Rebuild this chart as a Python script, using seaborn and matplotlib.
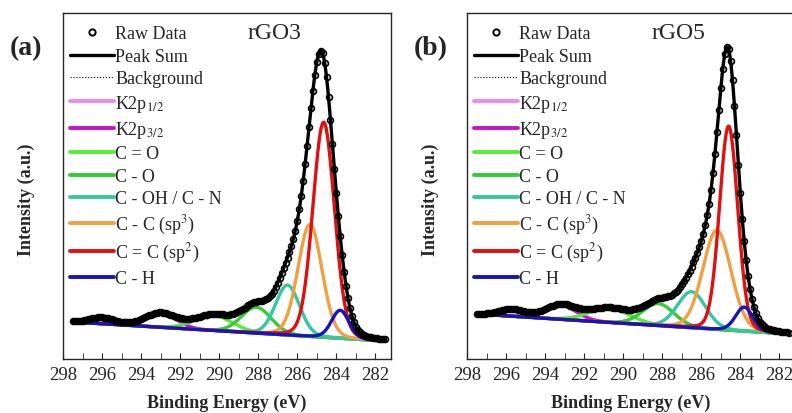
import numpy as np
import seaborn as sns
import matplotlib.pyplot as plt
from matplotlib.lines import Line2D

# componentes del ajuste C1s (centro eV, altura, FWHM, fraccion lorentziana)
names = ["K2p$_{1/2}$", "K2p$_{3/2}$", "C = O", "C - O", "C - OH / C - N",
         "C - C (sp$^3$)", "C = C (sp$^2$)", "C - H"]
colors = ["#EE8AEE", "#CC11CC", "#55EE33", "#33CC33", "#33C8A0",
          "#F0A040", "#E01010", "#1515C0"]

# rGO3
centers_a = [296.0, 293.0, 290.3, 288.1, 286.5, 285.35, 284.65, 283.8]
heights_a = [6, 14, 15, 26, 50, 112, 215, 28]
fwhm_a = [1.5, 1.9, 2.3, 1.8, 1.45, 1.45, 1.3, 1.05]
eta_a = [0.1, 0.1, 0.1, 0.1, 0.1, 0.1, 0.1, 0.15]
bg_a = [37, 18]   # fondo en 297.5 y 281.5 eV

# rGO5
centers_b = [295.7, 293.2, 290.7, 288.2, 286.5, 285.2, 284.6, 283.8]
heights_b = [7, 14, 14, 22, 36, 99, 204, 24]
fwhm_b = [1.5, 1.9, 2.5, 1.9, 1.7, 1.7, 1.1, 1.05]
eta_b = [0.1, 0.1, 0.1, 0.1, 0.1, 0.1, 0.1, 0.15]
bg_b = [45, 25]

e_start, e_end = 297.5, 281.5


def pvoigt(x, c, h, w, eta):
    g = np.exp(-4 * np.log(2) * ((x - c) / w) ** 2)
    l = 1 / (1 + (2 * (x - c) / w) ** 2)
    return h * ((1 - eta) * g + eta * l)


plt.rcParams["mathtext.fontset"] = "stix"
sns.set_style("ticks")
plt.rcParams["font.family"] = ["Liberation Serif", "DejaVu Serif"]

fig = plt.figure(figsize=(7.92, 4.14), dpi=100)
W, H = 792, 414


def panel(left_px, letter, title, centers, heights, fwhm, eta, bg):
    ax = fig.add_axes([left_px / W, (H - 360) / H, 328 / W, 346 / H])
    x = np.linspace(e_start, e_end, 641)
    xr = np.arange(e_start, e_end - 0.01, -0.1)
    base = bg[0] + (bg[1] - bg[0]) * (x - e_start) / (e_end - e_start)
    base_r = bg[0] + (bg[1] - bg[0]) * (xr - e_start) / (e_end - e_start)
    total = base.copy()
    raw = base_r.copy()
    for i in range(len(names)):
        comp = pvoigt(x, centers[i], heights[i], fwhm[i], eta[i])
        total += comp
        raw += pvoigt(xr, centers[i], heights[i], fwhm[i], eta[i])
        sns.lineplot(x=x, y=base + comp, ax=ax, color=colors[i], lw=2.4,
                     sort=False, zorder=3 + (i == len(names) - 1))
    sns.lineplot(x=x, y=base, ax=ax, color="black", lw=0.8, ls=":",
                 sort=False, zorder=2)
    sns.lineplot(x=x, y=total, ax=ax, color="black", lw=2.4, sort=False, zorder=5)
    ax.plot(xr, raw, "o", mfc="none", mec="black", ms=4.2, mew=1.2, zorder=6)

    ax.set_xlim(298, 281.2)
    ax.set_ylim(0, 346)
    ax.set_xticks(np.arange(298, 281, -2))
    ax.set_xticks(np.arange(297, 281, -2), minor=True)
    ax.tick_params(axis="x", which="both", direction="in", length=4,
                   labelsize=13.5, pad=5)
    ax.set_yticks([])
    for s in ax.spines.values():
        s.set_linewidth(1.0)
    ax.set_xlabel("Binding Energy (eV)", fontsize=13, fontweight="bold",
                  labelpad=8)
    ax.set_ylabel("Intensity (a.u.)", fontsize=13, fontweight="bold")
    ax.yaxis.set_label_coords(-0.085, 0.462)
    ax.text(0.645, 0.945, title, transform=ax.transAxes, fontsize=17,
            ha="center", va="center")
    fig.text((left_px - 53) / W, 1 - 49 / H, letter, fontsize=20,
             fontweight="bold", ha="left", va="center")

    handles = [Line2D([], [], ls="none", marker="o", mfc="none", mec="black",
                      ms=4.5, mew=1.4),
               Line2D([], [], color="black", lw=2.4),
               Line2D([], [], color="black", lw=0.8, ls=":")]
    handles += [Line2D([], [], color=c, lw=2.8) for c in colors]
    labels = ["Raw Data", "Peak Sum", "Background"] + names
    ax.legend(handles, labels, loc="upper left", frameon=False, fontsize=13,
              handlelength=2.4, handletextpad=0.1, labelspacing=0.3,
              borderaxespad=0, borderpad=0.4, numpoints=1,
              bbox_to_anchor=(0.0, 0.985))
    return ax


panel(63, "(a)", "rGO3", centers_a, heights_a, fwhm_a, eta_a, bg_a)
panel(467, "(b)", "rGO5", centers_b, heights_b, fwhm_b, eta_b, bg_b)

fig.savefig("out.png", dpi=100)
